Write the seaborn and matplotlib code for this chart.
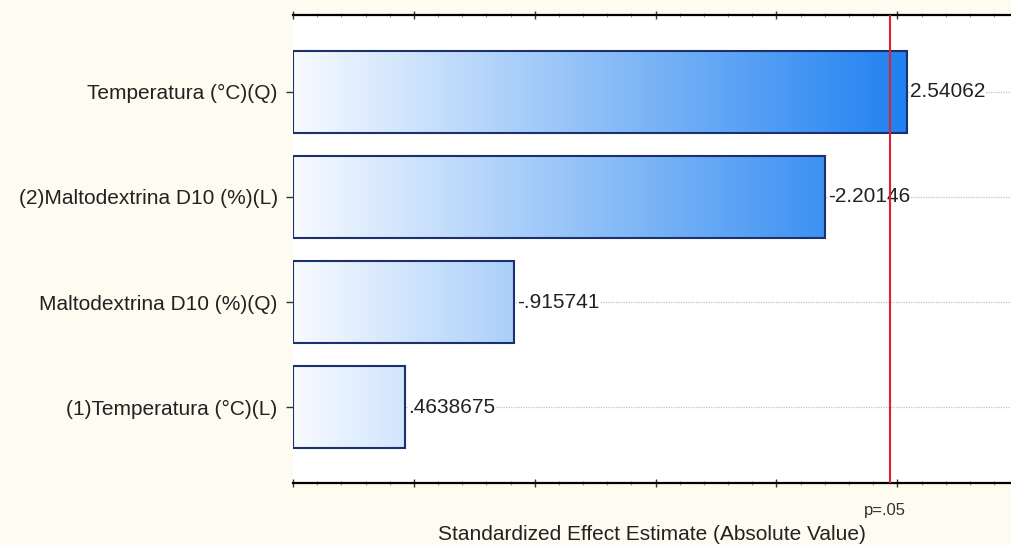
import matplotlib
matplotlib.use("Agg")
import matplotlib.pyplot as plt
import matplotlib.transforms as mtransforms
from matplotlib.colors import LinearSegmentedColormap
from matplotlib.ticker import MultipleLocator, NullFormatter
import numpy as np
import pandas as pd
import seaborn as sns

effects = ["Temperatura (°C)(Q)", "(2)Maltodextrina D10 (%)(L)",
           "Maltodextrina D10 (%)(Q)", "(1)Temperatura (°C)(L)"]
abs_values = [2.54062, 2.20146, 0.915741, 0.463868]
value_labels = ["2.54062", "-2.20146", "-.915741", ".4638675"]
p_limit = 2.47

sns.set_style("white")
plt.rcParams['font.family'] = ['Liberation Sans', 'DejaVu Sans']

df = pd.DataFrame({"Effect": effects, "Value": abs_values})

fig = plt.figure(figsize=(10.11, 5.45), dpi=100, facecolor="#fefbf0")
ax = fig.add_axes([0.2898, 0.1138, 0.7102, 0.8587])
ax.set_facecolor("white")

sns.barplot(data=df, y="Effect", x="Value", orient="h", ax=ax, width=0.78,
            facecolor="none", edgecolor="#1c2f6e", linewidth=1.5, zorder=3)

xmax = 2.97
ylims = (3.72, -0.73)

# gradient fill, white -> blue across the value axis
cmap = LinearSegmentedColormap.from_list("grad", ["#f8fbff", "#1e80f0"])
grad = np.linspace(0, 1, 256).reshape(1, -1)
for patch in list(ax.patches):
    im = ax.imshow(grad, cmap=cmap, aspect="auto", extent=(0, 2.56, ylims[0], ylims[1]),
                   zorder=2, interpolation="bicubic")
    im.set_clip_path(patch)
ax.set_xlim(0, xmax)
ax.set_ylim(*ylims)

# dotted guide lines at each effect
for i in range(len(effects)):
    ax.axhline(i, color="#c4c4c4", lw=0.9, ls=(0, (1, 1)), zorder=1)

ax.axvline(p_limit, color="#e0202a", lw=1.5, zorder=6)

for i, (v, lab) in enumerate(zip(abs_values, value_labels)):
    ax.text(v + 0.013, i, lab, ha="left", va="center", fontsize=15, color="#222222",
            zorder=5, bbox=dict(facecolor="white", edgecolor="none", pad=0.5))

trans = mtransforms.blended_transform_factory(ax.transData, ax.transAxes)
ax.text(p_limit - 0.02, -0.058, "p=.05", ha="center", va="center", fontsize=12,
        color="#333333", transform=trans)

ax.set_ylabel("")
ax.set_xlabel("Standardized Effect Estimate (Absolute Value)", fontsize=15,
              color="#222222", va="center")
ax.xaxis.set_label_coords(0.5, -0.111)

for side in ["left", "right"]:
    ax.spines[side].set_visible(False)
for side in ["top", "bottom"]:
    ax.spines[side].set_visible(True)
    ax.spines[side].set_color("black")
    ax.spines[side].set_linewidth(1.6)

ax.xaxis.set_major_locator(MultipleLocator(0.5))
ax.xaxis.set_minor_locator(MultipleLocator(0.1))
ax.xaxis.set_major_formatter(NullFormatter())
ax.tick_params(axis="x", which="major", top=True, bottom=True, direction="inout",
               length=6, width=1, color="#333333")
ax.tick_params(axis="x", which="minor", top=True, bottom=True, direction="inout",
               length=3, width=0.8, color="#999999")
ax.tick_params(axis="y", left=True, length=5, width=1, color="#333333",
               labelsize=15, labelcolor="#222222", pad=6)

fig.savefig("out.png", dpi=100, facecolor=fig.get_facecolor())
